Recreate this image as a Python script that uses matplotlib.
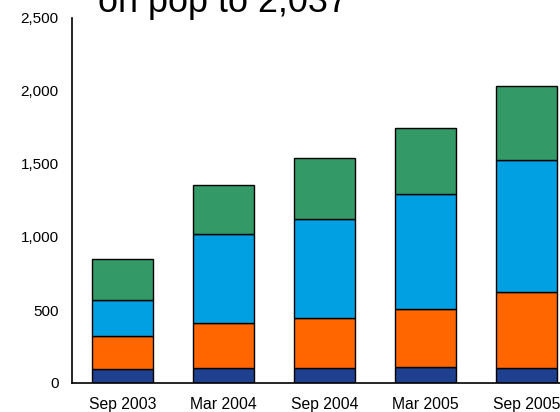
import matplotlib.pyplot as plt
import numpy as np

plt.rcParams['font.family'] = ['Liberation Sans', 'DejaVu Sans']

# data
periods = ['Sep 2003', 'Mar 2004', 'Sep 2004', 'Mar 2005', 'Sep 2005']
navy = [96, 103, 103, 112, 101]
orange = [228, 306, 342, 397, 522]
blue = [242, 609, 680, 788, 904]
green = [283, 340, 414, 450, 510]
series = [navy, orange, blue, green]
colors = ['#1f3f8f', '#ff6600', '#00a0e2', '#339966']
title = 'on pop to 2,037'

fig = plt.figure(figsize=(5.6, 4.12), dpi=100)
ax = fig.add_axes([72 / 560, 29 / 412, 505 / 560, 365 / 412])

x = np.arange(len(periods))
bottom = np.zeros(len(periods))
for vals, c in zip(series, colors):
    ax.bar(x, vals, width=0.6, bottom=bottom, color=c,
           edgecolor='black', linewidth=1.0, zorder=2)
    bottom += np.array(vals)

ax.set_xlim(-0.5, 4.5)
ax.set_ylim(0, 2500)
ax.set_yticks(range(0, 2501, 500))
ax.set_yticklabels([f'{v:,}' for v in range(0, 2501, 500)])
ax.set_xticks(x)
ax.set_xticklabels(periods)
ax.tick_params(axis='both', length=0)
ax.tick_params(axis='x', pad=10, labelsize=11.3)
ax.tick_params(axis='y', pad=9.5, labelsize=11)

for s in ['top', 'right']:
    ax.spines[s].set_visible(False)
for s in ['left', 'bottom']:
    ax.spines[s].set_linewidth(1.2)
    ax.spines[s].set_color('black')

fig.text(98 / 560, 1 - 11.5 / 412, title, fontsize=25.9, va='baseline', ha='left')

fig.savefig('out.png', dpi=100, facecolor='white')
